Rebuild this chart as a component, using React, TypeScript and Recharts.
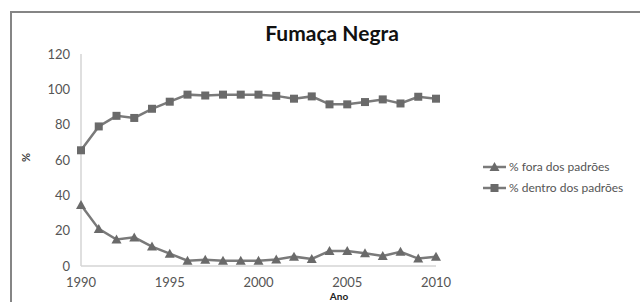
import React from "react"
import { LineChart, Line, XAxis, YAxis, Legend } from "recharts"

// Fumaça Negra - % fora / dentro dos padrões
const years = [1990, 1991, 1992, 1993, 1994, 1995, 1996, 1997, 1998, 1999, 2000, 2001, 2002, 2003, 2004, 2005, 2006, 2007, 2008, 2009, 2010]
const fora = [34.5, 21, 15, 16.2, 11, 7, 3, 3.5, 3, 3, 3, 3.7, 5.3, 4, 8.5, 8.5, 7.2, 5.7, 8, 4.2, 5.3]
const dentro = [65.5, 79, 85, 83.8, 89, 93, 97, 96.5, 97, 97, 97, 96.3, 94.7, 96, 91.5, 91.5, 92.8, 94.3, 92, 95.8, 94.7]
const xTicks = [1990, 1995, 2000, 2005, 2010]
const yTicks = [0, 20, 40, 60, 80, 100, 120]

const data = years.map((y, i) => ({ ano: y, fora: fora[i], dentro: dentro[i] }))

const LINE = "#7a7a7a"
const MARK = "#6a6a6a"
const FONT = "Lato, 'Open Sans', sans-serif"

const Square = (props: any) => {
  const { cx, cy } = props
  if (cx == null || cy == null) return null
  return <rect x={cx - 4} y={cy - 4} width={8} height={8} fill={MARK} />
}

const Triangle = (props: any) => {
  const { cx, cy } = props
  if (cx == null || cy == null) return null
  return <polygon points={`${cx},${cy - 5} ${cx + 5},${cy + 4} ${cx - 5},${cy + 4}`} fill={MARK} />
}

const legendItems = [
  { label: "% fora dos padrões", shape: "tri" },
  { label: "% dentro dos padrões", shape: "sq" },
]

function LegendBox() {
  return (
    <div style={{ fontFamily: FONT, fontSize: 12, color: "#555" }}>
      {legendItems.map((it) => (
        <div key={it.label} style={{ display: "flex", alignItems: "center", height: 21 }}>
          <svg width={25} height={12} style={{ marginRight: 1 }}>
            <line x1={0} y1={6} x2={23} y2={6} stroke={LINE} strokeWidth={2.5} />
            {it.shape === "sq" ? (
              <rect x={7.5} y={2} width={8} height={8} fill={MARK} />
            ) : (
              <polygon points="11.5,1 16.5,10 6.5,10" fill={MARK} />
            )}
          </svg>
          <span>{it.label}</span>
        </div>
      ))}
    </div>
  )
}

export default function App() {
  return (
    <div style={{ position: "absolute", left: 0, top: 0, width: 640, height: 302, background: "#fff", overflow: "hidden" }}>
      <div style={{ position: "absolute", left: 10, top: 11, width: 630, height: 2, background: "#858585" }} />
      <div style={{ position: "absolute", left: 10, top: 11, width: 2, height: 291, background: "#858585" }} />
      <div
        style={{
          position: "absolute",
          left: 0,
          width: 664,
          top: 20,
          textAlign: "center",
          fontFamily: FONT,
          fontWeight: 700,
          fontSize: 21,
          color: "#111",
        }}
      >
        Fumaça Negra
      </div>
      <div
        style={{
          position: "absolute",
          left: 21,
          top: 151,
          fontFamily: FONT,
          fontWeight: 700,
          fontSize: 11,
          color: "#444",
          transform: "rotate(-90deg)",
        }}
      >
        %
      </div>
      <div
        style={{
          position: "absolute",
          left: 0,
          width: 678,
          top: 292,
          textAlign: "center",
          fontFamily: FONT,
          fontWeight: 700,
          fontSize: 10,
          lineHeight: "9px",
          color: "#222",
        }}
      >
        Ano
      </div>
      <LineChart width={640} height={302} data={data} margin={{ top: 54, right: 44, left: 0, bottom: 0 }}>
        <XAxis
          dataKey="ano"
          type="number"
          domain={[1990, 2010]}
          ticks={xTicks}
          height={36}
          tickLine={false}
          axisLine={{ stroke: "#d4d4d4", strokeWidth: 1.5 }}
          tickMargin={6}
          tick={{ fontSize: 13, fill: "#555", fontFamily: FONT }}
        />
        <YAxis
          domain={[0, 120]}
          ticks={yTicks}
          width={81}
          tickLine={false}
          axisLine={{ stroke: "#d4d4d4", strokeWidth: 1.5 }}
          tickMargin={5}
          tick={{ fontSize: 13, fill: "#555", fontFamily: FONT }}
        />
        <Legend
          layout="vertical"
          align="right"
          verticalAlign="top"
          content={() => <LegendBox />}
          wrapperStyle={{ left: 483, top: 156, width: 160 }}
        />
        <Line
          dataKey="fora"
          stroke={LINE}
          strokeWidth={2.5}
          dot={<Triangle />}
          activeDot={false}
          isAnimationActive={false}
        />
        <Line
          dataKey="dentro"
          stroke={LINE}
          strokeWidth={2.5}
          dot={<Square />}
          activeDot={false}
          isAnimationActive={false}
        />
      </LineChart>
    </div>
  )
}
